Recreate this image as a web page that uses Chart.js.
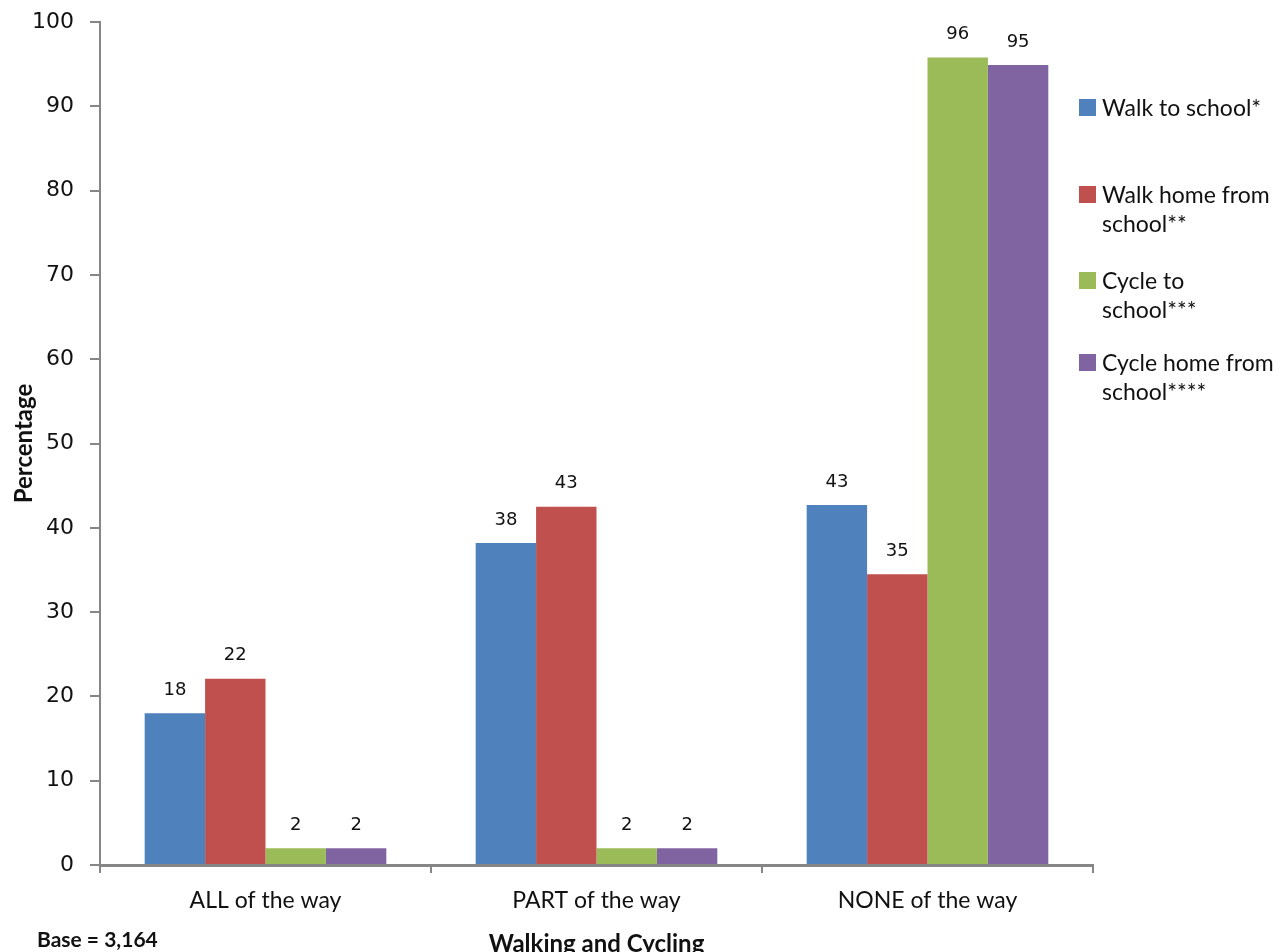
<!DOCTYPE html>
<html>
<head>
<meta charset="utf-8">
<script src="https://cdn.jsdelivr.net/npm/chart.js@4.4.1/dist/chart.umd.min.js"></script>
<style>
  html, body { margin: 0; padding: 0; background: #fff; }
  #wrap { position: relative; width: 1286px; height: 952px; overflow: hidden; }
  #legend { position: absolute; left: 1079px; top: 0; font-family: Lato, "Open Sans", sans-serif; font-size: 23px; color: #111; }
  .item { position: absolute; left: 0; width: 210px; line-height: 29px; }
  .sw { position: absolute; left: 0; top: 6px; width: 17px; height: 17px; }
  .txt { position: absolute; left: 23px; white-space: nowrap; }
</style>
</head>
<body>
<div id="wrap">
  <canvas id="myChart" width="1286" height="952"></canvas>
  <div id="legend"></div>
</div>
<script>
var categories = ['ALL of the way', 'PART of the way', 'NONE of the way'];
var walkTo = [18.0, 38.2, 42.7];
var walkHome = [22.1, 42.5, 34.5];
var cycleTo = [2.0, 2.0, 95.8];
var cycleHome = [2.0, 2.0, 94.9];
var seriesNames = [['Walk to school*'], ['Walk home from', 'school**'], ['Cycle to', 'school***'], ['Cycle home from', 'school****']];
var colors = ['#4F81BD', '#C0504D', '#9BBB59', '#8064A2'];
var yTicks = [0, 10, 20, 30, 40, 50, 60, 70, 80, 90, 100];

var axisGrey = '#868686';

// legend, wrapped like the original
var legendTops = [93, 180, 266, 348];
var legend = document.getElementById('legend');
seriesNames.forEach(function (lines, i) {
    var div = document.createElement('div');
    div.className = 'item';
    div.style.top = legendTops[i] + 'px';
    var sw = document.createElement('div');
    sw.className = 'sw';
    sw.style.background = colors[i];
    div.appendChild(sw);
    var t = document.createElement('div');
    t.className = 'txt';
    t.innerHTML = lines.join('<br>');
    div.appendChild(t);
    legend.appendChild(div);
});

var barLabels = {
    id: 'barLabels',
    afterDatasetsDraw: function (chart) {
        var c = chart.ctx;
        c.save();
        c.font = '18px "DejaVu Sans"';
        c.fillStyle = '#111';
        c.textAlign = 'center';
        c.textBaseline = 'middle';
        chart.data.datasets.forEach(function (ds, i) {
            chart.getDatasetMeta(i).data.forEach(function (bar, j) {
                c.fillText(Math.round(ds.data[j]), bar.x, bar.y - 23);
            });
        });
        c.restore();
    }
};

var extraText = {
    id: 'extraText',
    afterDraw: function (chart) {
        var c = chart.ctx;
        var area = chart.chartArea;
        c.save();
        c.fillStyle = '#111';
        c.textBaseline = 'middle';
        c.textAlign = 'center';
        c.font = 'bold 24px Lato, sans-serif';
        c.fillText('Walking and Cycling', (area.left + area.right) / 2, 944);
        c.textAlign = 'left';
        c.font = 'bold 21px Lato, sans-serif';
        c.fillText('Base = 3,164', 37, 940);
        c.restore();
    }
};

var ctx = document.getElementById('myChart');

var graphData = {
    type: 'bar',
    data: {
        labels: categories,
        datasets: [
            { label: seriesNames[0].join(' '), data: walkTo, backgroundColor: colors[0] },
            { label: seriesNames[1].join(' '), data: walkHome, backgroundColor: colors[1] },
            { label: seriesNames[2].join(' '), data: cycleTo, backgroundColor: colors[2] },
            { label: seriesNames[3].join(' '), data: cycleHome, backgroundColor: colors[3] }
        ]
    },
    options: {
        responsive: false,
        animation: false,
        events: [],
        layout: { padding: { left: 0, right: 193, top: 22, bottom: 0 } },
        datasets: { bar: { categoryPercentage: 0.73, barPercentage: 1.0 } },
        plugins: { legend: { display: false }, tooltip: { enabled: false } },
        scales: {
            x: {
                offset: true,
                grid: { offset: true, drawOnChartArea: false, drawTicks: true, tickLength: 8, color: axisGrey, lineWidth: 2 },
                border: { color: axisGrey, width: 3 },
                ticks: { color: '#111', padding: 14, font: { family: 'Lato', size: 23 } },
                afterFit: function (scale) { scale.height = 87; }
            },
            y: {
                min: 0,
                max: 100,
                afterBuildTicks: function (scale) {
                    scale.ticks = yTicks.map(function (v) { return { value: v }; });
                },
                grid: { drawOnChartArea: false, drawTicks: true, tickLength: 10, color: axisGrey, lineWidth: 2 },
                border: { color: axisGrey, width: 2 },
                ticks: { color: '#111', padding: 16, font: { family: 'DejaVu Sans', size: 22 } },
                title: { display: true, text: 'Percentage', color: '#111', padding: { top: 10, bottom: 0 }, font: { family: 'Lato', size: 24, weight: 'bold' } },
                afterFit: function (scale) {
                    scale.width = 100;
                    scale.paddingTop = 0;
                    scale.paddingBottom = 0;
                }
            }
        }
    },
    plugins: [barLabels, extraText]
};

var myChart = new Chart(ctx, graphData);
</script>
</body>
</html>
